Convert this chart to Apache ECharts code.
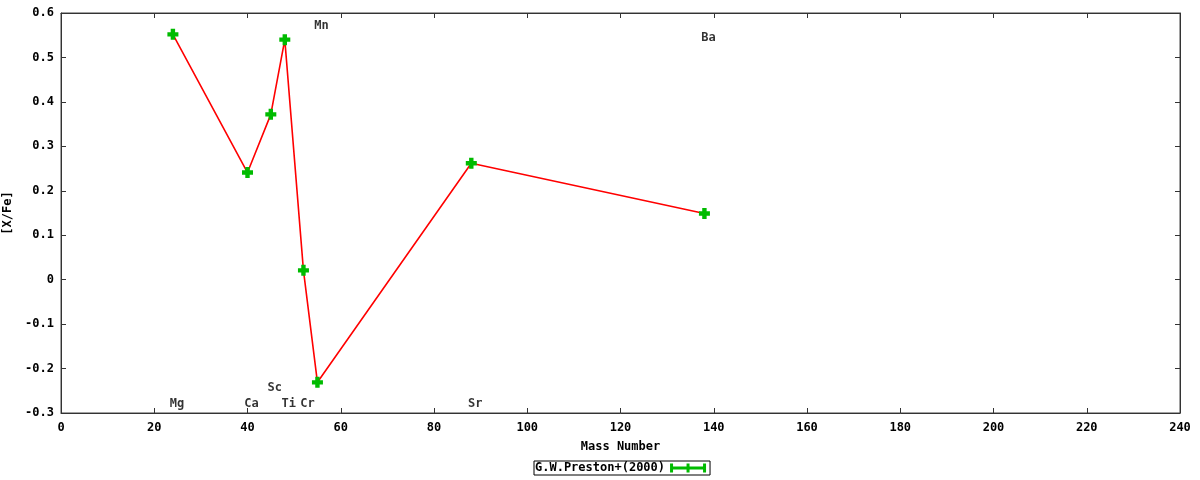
<!DOCTYPE html>
<html><head><meta charset="utf-8">
<script src="https://cdn.jsdelivr.net/npm/echarts@6/dist/echarts.min.js"></script>
<style>html,body{margin:0;padding:0;background:#fff}#c{width:1200px;height:480px}</style>
</head><body><div id="c"></div>
<script>
const seriesName = 'G.W.Preston+(2000)';
const massNumbers = [24, 40, 45, 48, 52, 55, 88, 138];
const xfeValues = [0.552, 0.241, 0.372, 0.540, 0.021, -0.231, 0.262, 0.149];
const elementNames = ['Mg', 'Ca', 'Sc', 'Ti', 'Cr', 'Mn', 'Sr', 'Ba'];
const labelX = [24, 40, 45, 48, 52, 55, 88, 138];
const labelY = [-0.279, -0.279, -0.243, -0.279, -0.279, 0.570, -0.279, 0.543];
const xTicks = [0, 20, 40, 60, 80, 100, 120, 140, 160, 180, 200, 220, 240];
const yTicks = [-0.3, -0.2, -0.1, 0, 0.1, 0.2, 0.3, 0.4, 0.5, 0.6];

const FONT = '"DejaVu Sans Mono", monospace';
const plusPath = 'path://M3,0h4v3h3v4h-3v3h-4v-3h-3v-4h3z';
const legendIcon = 'path://M0,0h3v3h13.5v-3h3v3h13.5v-3h3v9h-3v-3h-13.5v3h-3v-3h-13.5v3h-3z';

const chart = echarts.init(document.getElementById('c'));
const axisCommon = {
  axisLine: {show: true, onZero: false, lineStyle: {color: '#333', width: 1}},
  axisTick: {show: true, inside: true, length: 5, lineStyle: {color: '#333'}},
  splitLine: {show: false}
};
chart.setOption({
  animation: false,
  grid: {left: 61, right: 20, top: 13, bottom: 67, outerBoundsMode: 'none', containLabel: false,
    show: true, borderColor: '#444', borderWidth: 1},
  xAxis: [
    Object.assign({type: 'value', min: xTicks[0], max: xTicks[xTicks.length - 1], interval: 20,
      name: 'Mass Number', nameLocation: 'middle', nameGap: 28,
      nameTextStyle: {fontFamily: FONT, fontWeight: 'bold', fontSize: 12, color: '#000'},
      axisLabel: {fontFamily: FONT, fontWeight: 'bold', fontSize: 12, color: '#000', margin: 9}
    }, axisCommon),
    Object.assign({type: 'value', position: 'top', min: xTicks[0], max: xTicks[xTicks.length - 1], interval: 20,
      axisLabel: {show: false}}, axisCommon)
  ],
  yAxis: [
    Object.assign({type: 'value', min: yTicks[0], max: yTicks[yTicks.length - 1], interval: 0.1,
      name: '[X/Fe]', nameLocation: 'middle', nameGap: 44, nameRotate: 90,
      nameTextStyle: {fontFamily: FONT, fontWeight: 'bold', fontSize: 12, color: '#000'},
      axisLabel: {fontFamily: FONT, fontWeight: 'bold', fontSize: 12, color: '#000', margin: 7,
        formatter: v => String(Math.round(v * 10) / 10)}
    }, axisCommon),
    Object.assign({type: 'value', position: 'right', min: yTicks[0], max: yTicks[yTicks.length - 1], interval: 0.1,
      axisLabel: {show: false}}, axisCommon)
  ],
  legend: {
    top: 461, left: 534, align: 'right',
    data: [{name: seriesName, icon: legendIcon, itemStyle: {color: '#00bb00'}}],
    itemWidth: 36, itemHeight: 9, itemGap: 4,
    borderColor: '#000', borderWidth: 1, padding: [1, 4, 1, 1], borderRadius: 0,
    textStyle: {fontFamily: FONT, fontWeight: 'bold', fontSize: 12, color: '#000', padding: [0, 0, 0, 0]}
  },
  series: [
    {
      name: seriesName, type: 'line',
      data: massNumbers.map((m, i) => [m, xfeValues[i]]),
      symbol: plusPath, symbolSize: 11, showAllSymbol: true,
      lineStyle: {color: '#ff0000', width: 1.6},
      itemStyle: {color: '#00bb00'},
      z: 3
    },
    {
      name: 'labels', type: 'scatter', symbolSize: 0, silent: true,
      data: labelX.map((x, i) => ({value: [x, labelY[i]], name: elementNames[i]})),
      label: {show: true, position: 'inside', offset: [4, 0], formatter: p => p.name,
        fontFamily: FONT, fontWeight: 'bold', fontSize: 12, color: '#000'}
    }
  ]
});
</script></body></html>
